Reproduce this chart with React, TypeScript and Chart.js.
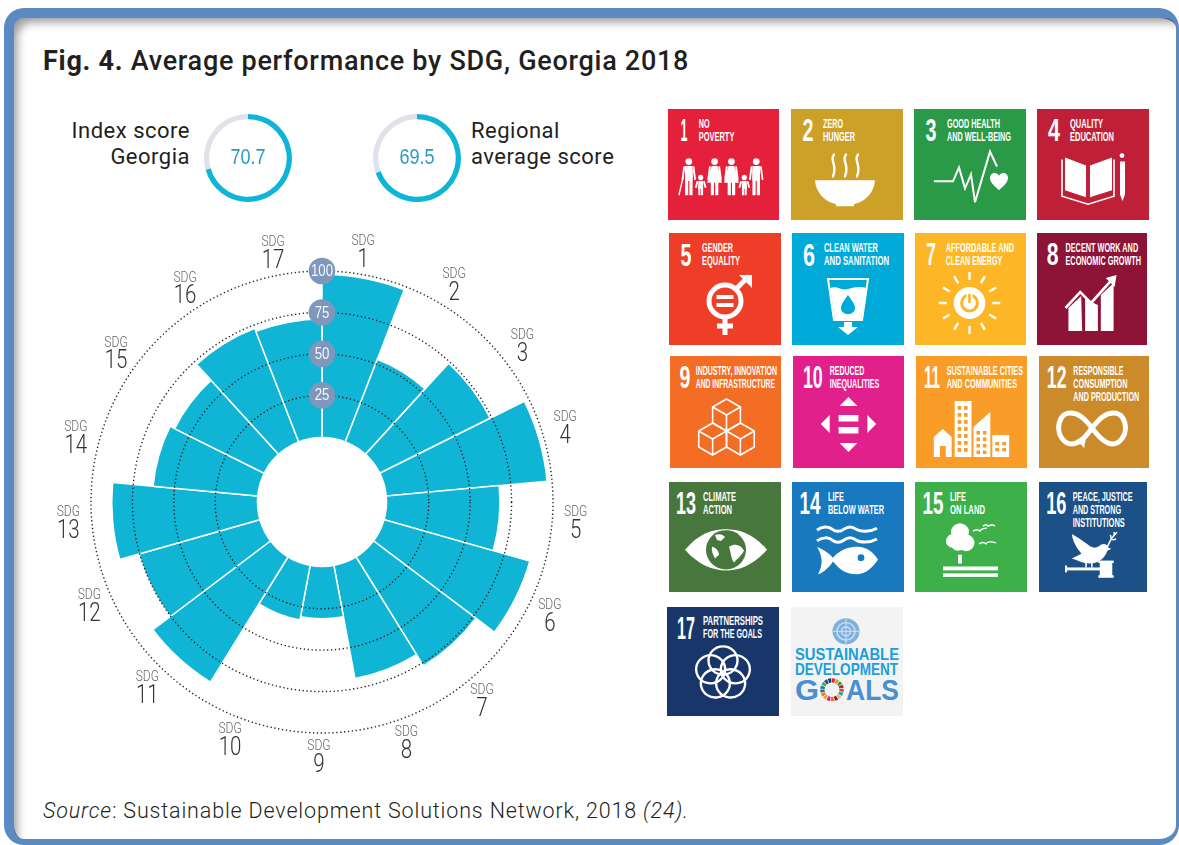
import React, { useEffect, useRef } from "react";
import { Chart, registerables } from "chart.js";

Chart.register(...registerables);

// ---------- data ----------
const sdgNumbers = ["1","2","3","4","5","6","7","8","9","10","11","12","13","14","15","16","17"];
const sdgScores = [98, 53, 74, 97, 68, 91, 77, 69, 31, 33, 88.5, 75.5, 87.5, 63, 60, 73, 71];
const ringTicks = [25, 50, 75, 100];
const indexScore = 70.7;
const regionalScore = 69.5;
const sdgTitles = [
  ["NO","POVERTY"],["ZERO","HUNGER"],["GOOD HEALTH","AND WELL-BEING"],["QUALITY","EDUCATION"],
  ["GENDER","EQUALITY"],["CLEAN WATER","AND SANITATION"],["AFFORDABLE AND","CLEAN ENERGY"],["DECENT WORK AND","ECONOMIC GROWTH"],
  ["INDUSTRY, INNOVATION","AND INFRASTRUCTURE"],["REDUCED","INEQUALITIES"],["SUSTAINABLE CITIES","AND COMMUNITIES"],["RESPONSIBLE","CONSUMPTION","AND PRODUCTION"],
  ["CLIMATE","ACTION"],["LIFE","BELOW WATER"],["LIFE","ON LAND"],["PEACE, JUSTICE","AND STRONG","INSTITUTIONS"],
  ["PARTNERSHIPS","FOR THE GOALS"],
];

// ---------- layout / style ----------
const sdgColors = ["#E5203A","#CDA027","#2A9A48","#C02037","#EF3E27","#00AAD8","#FDB726","#8D1337","#F36D25","#E2208C","#F99D28","#CB8B2A","#48773D","#1879BE","#3DB04A","#1B5186","#19366A"];
const tileBoxes = [
  [668,109,111,111],[791,109,112,111],[914,109,112,111],[1037,109,112,111],
  [669,233,112,112],[792,233,112,112],[915,233,111,112],[1037,233,110,112],
  [670,356,111,112],[793,356,111,112],[916,356,111,112],[1039,356,110,112],
  [669,482,112,110],[792,482,112,110],[915,482,112,110],[1039,482,108,110],
  [667,607,112,109],
];
const numberCentre = [16,17,17,17,17,17,16,16,15,20,16,18,17,18,18,18,19];
const numberWidth = [7,11,11,12,11,12,10,12,11,20,16,20,20,21,21,21,18];
const labelLeft = [31,32,33,33,33,32,31,29,26,37,31,35,34,36,35,35,36];
const labelWidths = [[11,36],[20,32],[53,64],[33,44],[31,38],[54,65],[69,57],[74,77],[82,80],[35,50],[77,71],[51,55,67],[33,29],[16,56],[16,35],[62,50,54],[60,59]];
const labelAngleNudge = [-1.3,-0.5,-1,-1.3,-0.8,0,3.4,1.8,0.7,0,1,2.6,0.8,-1.2,-1.1,-0.8,-0.5];
const BAR = "#10B4D5";
const NARROW = '"Liberation Sans", sans-serif';
const DIN = 'Roboto, "Liberation Sans", sans-serif';

// ---------- icons ----------
const W = "#fff";
function Person({ x, child, skirt }: any) {
  const top = child ? 69 : 53;
  const sy = top + (child ? 3.5 : 4.5);
  const armH = child ? 7 : 14;
  const half = child ? 2.4 : 3.8;
  const legW = child ? 2.1 : 3.2;
  const end = 87;
  return (
    <g fill={W}>
      <circle cx={x} cy={top} r={child ? 2.6 : 3.4} />
      {skirt ? (
        <path d={`M${x - 3} ${sy}H${x + 3}L${x + 7.5} ${sy + 17}H${x - 7.5}Z`} />
      ) : (
        <rect x={x - half} y={sy} width={2 * half} height={child ? 8 : 15} />
      )}
      <rect x={x - half} y={sy + 4} width={legW} height={end - sy - 4} />
      <rect x={x + half - legW} y={sy + 4} width={legW} height={end - sy - 4} />
      <path d={`M${x - half - 0.8} ${sy + 0.5}L${x - half - 2.6} ${sy + armH}`} stroke={W} strokeWidth={1.9} />
      <path d={`M${x + half + 0.8} ${sy + 0.5}L${x + half + 2.6} ${sy + armH}`} stroke={W} strokeWidth={1.9} />
    </g>
  );
}
const icon: Record<number, (c: string) => any> = {
  1: () => (
    <g>
      <Person x={21} /><Person x={33} child /><Person x={47} skirt /><Person x={64} skirt /><Person x={77} child /><Person x={89} />
      <path d="M11 87L15 70" stroke={W} strokeWidth={1.4} />
    </g>
  ),
  2: () => (
    <g>
      <path d="M24 72H84C83 86 73 94 63 96V98H45V96C35 94 25 86 24 72Z" fill={W} />
      <g stroke={W} strokeWidth={2.4} fill="none" strokeLinecap="round">
        <path d="M43 46C38 52 47 56 42 68" /><path d="M55 46C50 52 59 56 54 68" /><path d="M67 46C62 52 71 56 66 68" />
      </g>
    </g>
  ),
  3: () => (
    <g>
      <path d="M20 73H39L45 59L51 80L57 66L61 94L76 43L83 58" stroke={W} strokeWidth={2} fill="none" />
      <path d="M85 82C80 77 76 74 76 69.5C76 64 83 63 85 67.5C87 63 94 64 94 69.5C94 74 90 77 85 82Z" fill={W} />
    </g>
  ),
  4: () => (
    <g fill={W}>
      <path d="M28 49L49 57V89L28 82Z" /><path d="M53 57L75 49V82L53 89Z" />
      <path d="M25 51V88L51 96L77 88V51" fill="none" stroke={W} strokeWidth={1.6} />
      <circle cx={85} cy={47} r={2.4} /><path d="M83 53H88V86L85.5 93L83 86Z" />
    </g>
  ),
  5: () => (
    <g>
      <g stroke={W} strokeWidth={5} fill="none">
        <circle cx={56} cy={68} r={16} />
        <path d="M68 55L80 43" /><path d="M56 85V102" /><path d="M48 93H64" />
      </g>
      <path d="M70 42H83V55L79 51L74 46Z" fill={W} />
      <rect x={47.5} y={62} width={17} height={4} fill={W} /><rect x={47.5} y={70} width={17} height={4} fill={W} />
    </g>
  ),
  6: (c) => (
    <g>
      <path d="M36 46H76L70 87H42Z" fill="none" stroke={W} strokeWidth={2} />
      <path d="M38 55C45 52 50 58 56 56C62 54 68 53 75 55L69 87H43Z" fill={W} />
      <path d="M56 62C52 68 49 71 49 75C49 83 63 83 63 75C63 71 60 68 56 62Z" fill={c} />
      <path d="M52 89H60V94H66L56 102L46 94H52Z" fill={W} />
    </g>
  ),
  7: (c) => (
    <g>
      <circle cx={55} cy={70} r={16} fill={W} />
      <circle cx={55} cy={70} r={8} fill="none" stroke={c} strokeWidth={3} />
      <path d="M55 60V70" stroke={W} strokeWidth={6} /><path d="M55 61V70" stroke={c} strokeWidth={2.6} />
      {[0,30,60,90,120,150,180,210,240,270,300,330].map((a) => (
        <path key={a} d="M55 47V39" stroke={W} strokeWidth={2.4} transform={`rotate(${a} 55 70)`} />
      ))}
    </g>
  ),
  8: () => (
    <g fill={W}>
      <path d="M32 75L45 63L46 98H32Z" /><path d="M49 66L62 72V98H49Z" /><path d="M65 62L78 50V98H65Z" />
      <path d="M29 75L44 59L55 70L76 47" fill="none" stroke={W} strokeWidth={2.6} />
      <path d="M70 45L81 42L79 54Z" />
    </g>
  ),
  9: () => {
    const cube = (x: number, y: number) => (
      <g key={x} fill="none" stroke={W} strokeWidth={1.6}>
        <path d={`M${x} ${y}l14 8v16l-14 8l-14 -8v-16Z`} /><path d={`M${x - 14} ${y + 8}l14 8l14 -8M${x} ${y + 16}v16`} />
      </g>
    );
    return <g>{cube(57, 43)}{cube(43, 67)}{cube(71, 67)}</g>;
  },
  10: () => (
    <g fill={W}>
      <path d="M56 41L65 50H47Z" /><path d="M56 96L65 87H47Z" /><path d="M28 68L37 59V77Z" /><path d="M84 68L75 59V77Z" />
      <rect x={46} y={59} width={20} height={6.5} /><rect x={46} y={71} width={20} height={6.5} />
    </g>
  ),
  11: (c) => {
    const win = (x: number, y: number, nx: number, ny: number, sx: number, sy: number) => {
      const o: any[] = [];
      for (let i = 0; i < nx; i++) for (let j = 0; j < ny; j++)
        o.push(<rect key={`${x}${i}${j}`} x={x + i * sx} y={y + j * sy} width={sx * 0.55} height={sy * 0.55} fill={c} />);
      return o;
    };
    return (
      <g fill={W}>
        <path d="M18 101V81L27 73L36 81V101H30V90H24V101Z" /><rect x={39} y={45} width={17} height={56} /><path d="M58 101V71L75 56V101Z" /><rect x={77} y={79} width={17} height={22} />
        {win(42, 50, 2, 7, 6.5, 7)}{win(61, 75, 2, 4, 6.5, 6.5)}{win(80, 86, 2, 2, 7, 6)}
      </g>
    );
  },
  12: () => (
    <g>
      <path d="M54 72C46 62 40 57 32 57C24 57 20 64 20 72C20 80 26 88 33 88C40 88 47 82 54 72C62 62 68 57 76 57C84 57 88 64 88 72C88 80 82 88 75 88C68 88 60 80 54 72Z" fill="none" stroke={W} strokeWidth={5} />
      <path d="M38 84L48 81L46 92Z" fill={W} />
    </g>
  ),
  13: (c) => (
    <g>
      <path d="M16 69C30 52 44 48 57 48C70 48 84 52 98 69C84 85 70 90 57 90C44 90 30 85 16 69Z" fill={W} />
      <circle cx={57} cy={69} r={20} fill={c} />
      <path d="M46 54C51 52 54 54 56 56L52 60L48 59ZM60 66C66 62 72 64 75 70C72 76 68 78 65 82C62 78 62 72 60 66ZM43 66C46 66 50 70 50 74L46 78C44 74 42 70 43 66Z" fill={W} />
    </g>
  ),
  14: () => (
    <g>
      <path d="M25 49C30 45 37 45 40 48C44 51 48 51 52 48C56 45 60 45 64 48C68 51 78 51 85 47M25 60C30 56 37 56 40 59C44 62 48 62 52 59C56 56 60 56 64 59C68 62 78 62 85 58" fill="none" stroke={W} strokeWidth={3} />
      <path d="M25 66C32 69 37 73 41 77C49 68 58 66 66 66C74 66 81 71 86 79C81 87 74 94 64 94C55 94 48 90 41 81C37 87 32 92 26 94C31 85 31 76 25 66Z" fill={W} />
      <circle cx={69} cy={77} r={3.4} fill="#1879BE" />
    </g>
  ),
  15: () => (
    <g fill={W}>
      <circle cx={45} cy={51} r={9} /><circle cx={38} cy={60} r={7} /><circle cx={51} cy={62} r={8.5} /><circle cx={43} cy={63} r={7} />
      <rect x={43} y={74} width={4} height={9} /><rect x={28} y={86} width={55} height={4} /><rect x={28} y={93} width={55} height={3.6} />
      <g fill="none" stroke={W} strokeWidth={1.4}>
        <path d="M58 50C61 48 63 48 65 50C66 48 69 47 72 47" /><path d="M68 45C70 43 72 43 73 45C75 44 78 43 80 45" /><path d="M64 63C67 61 69 61 71 63C72 61 76 60 81 62" />
      </g>
    </g>
  ),
  16: () => (
    <g fill={W}>
      <path d="M34 53C40 56 48 62 54 66C58 68 62 66 64 64C67 62 71 63 72 67L75 68L71 70C68 78 62 83 52 83C46 83 40 80 34 78L44 73C38 66 35 60 34 53Z" />
      <rect x={48} y={82} width={1.6} height={5} /><rect x={54} y={82} width={1.6} height={5} />
      <path d="M71 66C73 61 75 56 81 51M75 58L74 54M78 55L78 51M76 59L80 58" fill="none" stroke={W} strokeWidth={1.6} />
      <rect x={28} y={87} width={36} height={3} /><rect x={27} y={85} width={2} height={7} />
      <rect x={63} y={82} width={13} height={14} /><rect x={61.5} y={80} width={16} height={2.5} /><rect x={61.5} y={95} width={16} height={2.5} />
    </g>
  ),
  17: () => (
    <g fill="none" stroke={W} strokeWidth={2.4}>
      {[0,72,144,216,288].map((a) => <circle key={a} cx={56} cy={55} r={14.5} transform={`rotate(${a} 56 68)`} />)}
    </g>
  ),
};

function Tile({ i }: { i: number }) {
  const [x, y, w, h] = tileBoxes[i];
  const c = sdgColors[i];
  const Icon = icon[i + 1];
  return (
    <svg width={w} height={h} viewBox="0 0 112 112" preserveAspectRatio="none" style={{ position: "absolute", left: x, top: y }}>
      <rect width={112} height={112} fill={c} />
      <text x={numberCentre[i]} y={32.5} textAnchor="middle" fill={W} fontFamily={NARROW} fontWeight={700} fontSize={32} textLength={numberWidth[i]} lengthAdjust="spacingAndGlyphs">{sdgNumbers[i]}</text>
      {sdgTitles[i].map((t, k) => (
        <text key={k} x={labelLeft[i]} y={19 + k * 13.2} fill={W} fontFamily={NARROW} fontWeight={700} fontSize={13.5} textLength={labelWidths[i][k]} lengthAdjust="spacingAndGlyphs">{t}</text>
      ))}
      {Icon(c)}
    </svg>
  );
}

function GoalsTile() {
  const segs = sdgColors.map((col, k) => {
    const a0 = (k * 2 * Math.PI) / 17 - Math.PI / 2;
    const a1 = ((k + 0.8) * 2 * Math.PI) / 17 - Math.PI / 2;
    const r = 9.6;
    return <path key={k} d={`M${41 + r * Math.cos(a0)} ${85 + r * Math.sin(a0)}A${r} ${r} 0 0 1 ${41 + r * Math.cos(a1)} ${85 + r * Math.sin(a1)}`} stroke={col} strokeWidth={4.4} fill="none" />;
  });
  return (
    <svg width={112} height={109} viewBox="0 0 112 112" preserveAspectRatio="none" style={{ position: "absolute", left: 791, top: 607 }}>
      <rect width={112} height={112} fill="#F3F3F3" />
      <circle cx={55} cy={25} r={13.5} fill="#7FB1DC" />
      <circle cx={55} cy={25} r={9} fill="none" stroke="#CFE2F3" strokeWidth={1.4} />
      <circle cx={55} cy={25} r={4.5} fill="none" stroke="#CFE2F3" strokeWidth={1.4} />
      <path d="M55 12V38M42 25H68" stroke="#CFE2F3" strokeWidth={1} />
      <g fontFamily='"Liberation Sans", sans-serif' fontWeight={700} textAnchor="start">
        <text x={4} y={54} fontSize={16.5} fill="#1A9FDC" textLength={104} lengthAdjust="spacingAndGlyphs">SUSTAINABLE</text>
        <text x={4} y={69.5} fontSize={16.5} fill="#1A9FDC" textLength={103} lengthAdjust="spacingAndGlyphs">DEVELOPMENT</text>
        <text x={4} y={96} fontSize={31} fill="#4A8FD0" textLength={24} lengthAdjust="spacingAndGlyphs">G</text>
        <text x={55} y={96} fontSize={31} fill="#4A8FD0" textLength={53} lengthAdjust="spacingAndGlyphs">ALS</text>
      </g>
      {segs}
    </svg>
  );
}

// ---------- charts ----------
function squeezedText(ctx: any, str: string, x: number, y: number, sx: number) {
  ctx.save();
  ctx.translate(x, y);
  ctx.scale(sx, 1);
  ctx.fillText(str, 0, 0);
  ctx.restore();
}

const polarDecor = {
  id: "polarDecor",
  afterDatasetsDraw(chart: any) {
    const s = chart.scales.r;
    const ctx = chart.ctx;
    ctx.save();
    ctx.fillStyle = "#fff";
    ctx.beginPath();
    ctx.arc(s.xCenter, s.yCenter, s.getDistanceFromCenterForValue(0), 0, Math.PI * 2);
    ctx.fill();
    ctx.restore();
  },
  afterDraw(chart: any) {
    const s = chart.scales.r;
    const ctx = chart.ctx;
    ctx.save();
    ctx.textAlign = "center";
    ctx.textBaseline = "middle";
    ringTicks.forEach((v) => {
      const y = s.yCenter - s.getDistanceFromCenterForValue(v);
      ctx.fillStyle = "#7F97BB";
      ctx.beginPath();
      ctx.arc(s.xCenter, y, 13.3, 0, Math.PI * 2);
      ctx.fill();
      ctx.fillStyle = "#F4F6FA";
      ctx.font = `17px ${NARROW}`;
      squeezedText(ctx, String(v), s.xCenter, y + 0.5, 0.78);
    });
    const step = 360 / sdgNumbers.length;
    sdgNumbers.forEach((n, i) => {
      const a = (((i + 0.5) * step + labelAngleNudge[i]) * Math.PI) / 180;
      const cx = s.xCenter + 254.5 * Math.sin(a);
      const cy = s.yCenter - 254.5 * Math.cos(a);
      ctx.fillStyle = "#666";
      ctx.font = `300 14px ${DIN}`;
      squeezedText(ctx, "SDG", cx, cy - 9.5, 0.86);
      ctx.fillStyle = "#333";
      ctx.font = `300 25px ${DIN}`;
      squeezedText(ctx, n, cx, cy + 9.5, 0.82);
    });
    ctx.restore();
  },
};

const donutText = {
  id: "donutText",
  afterDraw(chart: any) {
    const ctx = chart.ctx;
    ctx.save();
    ctx.fillStyle = "#2A9CC4";
    ctx.font = `21.5px ${NARROW}`;
    ctx.textAlign = "center";
    ctx.textBaseline = "middle";
    squeezedText(ctx, chart.options.plugins.donutText.text, chart.width / 2, chart.height / 2 + 0.5, 0.84);
    ctx.restore();
  },
};

function Polar() {
  const ref = useRef<HTMLCanvasElement>(null);
  useEffect(() => {
    const chart = new Chart(ref.current!, {
      type: "polarArea",
      data: {
        labels: sdgNumbers.map((n) => `SDG ${n}`),
        datasets: [{ data: sdgScores, backgroundColor: BAR, borderColor: "#fff", borderWidth: 1.5 }],
      },
      plugins: [polarDecor],
      options: {
        responsive: false,
        animation: false,
        layout: { padding: 59 },
        plugins: { legend: { display: false }, tooltip: { enabled: false } },
        scales: {
          r: {
            min: -39.4,
            max: 100,
            afterBuildTicks: (s: any) => { s.ticks = ringTicks.map((value) => ({ value })); },
            ticks: { display: false },
            pointLabels: { display: false },
            angleLines: { display: false },
            border: { dash: [1.3, 2.6] },
            grid: { circular: true, color: "#222", lineWidth: 1.4, z: 1 },
          },
        },
      },
    } as any);
    return () => chart.destroy();
  }, []);
  return <canvas ref={ref} width={580} height={580} style={{ position: "absolute", left: 32, top: 212, display: "block" }} />;
}

function Donut({ value, left }: { value: number; left: number }) {
  const ref = useRef<HTMLCanvasElement>(null);
  useEffect(() => {
    const chart = new Chart(ref.current!, {
      type: "doughnut",
      data: { labels: ["score", "rest"], datasets: [{ data: [value, 100 - value], backgroundColor: ["#0FB5D6", "#E0E2E9"], borderWidth: 0 }] },
      plugins: [donutText],
      options: {
        responsive: false,
        animation: false,
        cutout: "88%",
        plugins: { legend: { display: false }, tooltip: { enabled: false }, donutText: { text: value.toFixed(1) } },
      },
    } as any);
    return () => chart.destroy();
  }, [value]);
  return <canvas ref={ref} width={88} height={88} style={{ position: "absolute", left, top: 114, display: "block" }} />;
}

const text = (s: any) => ({ position: "absolute", whiteSpace: "nowrap", color: "#231F20", fontFamily: DIN, ...s } as React.CSSProperties);

export default function App() {
  return (
    <div style={{ position: "absolute", left: 0, top: 0, width: 1179, height: 845, overflow: "hidden", background: "#fff" }}>
      <div style={{ position: "absolute", left: 4, top: 8, width: 1162, height: 821, boxSizing: "content-box", borderStyle: "solid", borderColor: "#5A8AC1", borderWidth: "10px 3px 6px 10px", borderRadius: 20, background: "#fff" }} />
      <div style={{ position: "absolute", left: 14, top: 18, width: 1162, height: 821, borderRadius: 10, boxShadow: "inset 8px 9px 10px -5px rgba(0,0,0,0.4)" }} />
      <div style={text({ left: 43, top: 45, fontSize: 27, lineHeight: "32px", fontWeight: 500, letterSpacing: 0.72 })}>
        <span style={{ fontWeight: 700 }}>Fig. 4.</span> Average performance by SDG, Georgia 2018
      </div>
      <div style={text({ right: 1179 - 190, top: 118, fontSize: 22, lineHeight: "26px", textAlign: "right", letterSpacing: 0.5, fontWeight: 400 })}>Index score<br />Georgia</div>
      <div style={text({ left: 471, top: 118, fontSize: 22, lineHeight: "26px", letterSpacing: 0.5, fontWeight: 400 })}>Regional<br />average score</div>
      <Donut value={indexScore} left={204} />
      <Donut value={regionalScore} left={373} />
      <Polar />
      {sdgTitles.map((_, i) => <Tile key={i} i={i} />)}
      <GoalsTile />
      <div style={text({ left: 43, top: 798, fontSize: 21.5, lineHeight: "26px", letterSpacing: 0.84, fontWeight: 300 })}>
        <i>Source</i>: Sustainable Development Solutions Network, 2018 <i>(24).</i>
      </div>
    </div>
  );
}
